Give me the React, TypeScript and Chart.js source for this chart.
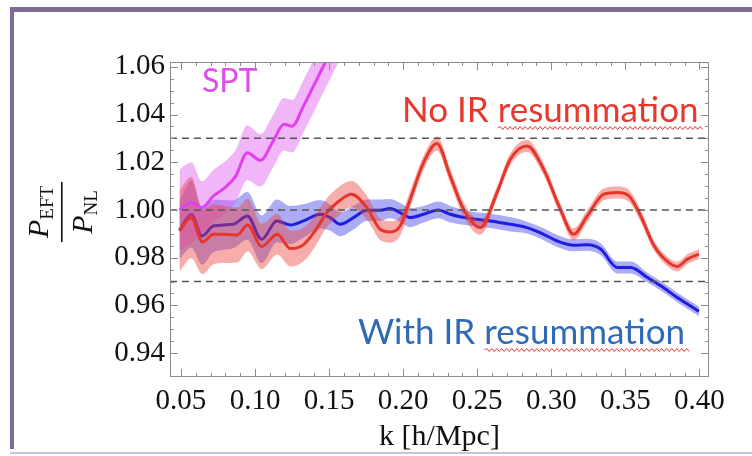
import React, { useEffect, useRef } from "react";
import { Chart, registerables } from "chart.js";

Chart.register(...registerables);

// ---- axes ----
const xRange = [0.0426, 0.4065];
const yRange = [0.93, 1.062];
const xTicks = [0.05, 0.1, 0.15, 0.2, 0.25, 0.3, 0.35, 0.4];
const yTicks = [0.94, 0.96, 0.98, 1.0, 1.02, 1.04, 1.06];
const refLines = [1.03, 1.0, 0.97];

// ---- No IR resummation (red) ----
const kRed = [0.049, 0.057, 0.0645, 0.072, 0.079, 0.088, 0.095, 0.1045, 0.115, 0.124, 0.133, 0.1405, 0.1485, 0.1555, 0.165, 0.1755, 0.1845, 0.1912, 0.198, 0.2048, 0.2138, 0.2228, 0.2318, 0.2408, 0.2521, 0.2634, 0.2723, 0.2836, 0.2949, 0.3061, 0.3151, 0.3243, 0.3355, 0.3446, 0.3524, 0.3604, 0.3694, 0.3807, 0.3851, 0.3919, 0.3997];
const redMid = [0.9912, 0.9968, 0.9866, 0.9898, 0.9898, 0.9895, 0.9937, 0.9847, 0.9898, 0.9838, 0.9856, 0.9912, 0.9989, 1.0031, 1.0066, 1.001, 0.9919, 0.9908, 0.9933, 1.0045, 1.0198, 1.0278, 1.0142, 1.0003, 0.9926, 1.0073, 1.0212, 1.0268, 1.017, 1.0003, 0.9898, 0.9975, 1.0066, 1.0073, 1.0059, 0.9975, 0.985, 0.9773, 0.9763, 0.9794, 0.9815];
const redErr = [0.017, 0.017, 0.0135, 0.0125, 0.012, 0.0115, 0.011, 0.0095, 0.0085, 0.0075, 0.007, 0.0065, 0.006, 0.006, 0.0055, 0.005, 0.0045, 0.0045, 0.004, 0.0035, 0.003, 0.003, 0.003, 0.003, 0.003, 0.0025, 0.0025, 0.0025, 0.0025, 0.0025, 0.0025, 0.0025, 0.0025, 0.0025, 0.0025, 0.0025, 0.002, 0.002, 0.002, 0.002, 0.002];

// ---- With IR resummation (blue) ----
const kBlue = [0.049, 0.057, 0.0644, 0.0718, 0.0853, 0.0948, 0.1045, 0.1147, 0.1237, 0.1327, 0.144, 0.1507, 0.1575, 0.1665, 0.1755, 0.1845, 0.1912, 0.198, 0.2048, 0.2138, 0.2239, 0.2318, 0.2453, 0.2589, 0.2723, 0.2836, 0.2949, 0.304, 0.3151, 0.3243, 0.3333, 0.3446, 0.3536, 0.3649, 0.3739, 0.3851, 0.3997];
const blueMid = [0.9915, 0.9982, 0.9891, 0.9933, 0.994, 0.9975, 0.9877, 0.9954, 0.9937, 0.9954, 0.9982, 0.9968, 0.994, 0.9968, 0.9999, 0.9999, 1.0006, 0.9989, 0.9968, 0.9982, 1.0, 0.9982, 0.9964, 0.9954, 0.994, 0.9926, 0.9898, 0.987, 0.9852, 0.9854, 0.9836, 0.9759, 0.9759, 0.9717, 0.9682, 0.9633, 0.9575];
const blueErr = [0.012, 0.014, 0.012, 0.011, 0.01, 0.01, 0.01, 0.009, 0.008, 0.007, 0.006, 0.0055, 0.005, 0.005, 0.0045, 0.0045, 0.004, 0.004, 0.004, 0.0035, 0.0035, 0.0035, 0.003, 0.003, 0.003, 0.0025, 0.0025, 0.0025, 0.0025, 0.0025, 0.0025, 0.0025, 0.0025, 0.002, 0.002, 0.002, 0.002];

// ---- SPT (magenta) ----
const kSpt = [0.049, 0.057, 0.064, 0.072, 0.079, 0.087, 0.0948, 0.1036, 0.1124, 0.1195, 0.125, 0.1327, 0.1417, 0.1507, 0.158];
const sptMid = [1.0, 1.003, 1.001, 1.0059, 1.009, 1.0142, 1.024, 1.0208, 1.029, 1.0359, 1.0351, 1.0435, 1.0547, 1.0659, 1.075];
const sptErr = [0.017, 0.017, 0.011, 0.011, 0.011, 0.011, 0.0115, 0.011, 0.011, 0.011, 0.011, 0.011, 0.011, 0.011, 0.011];

const labelSpt = "SPT";
const labelNoIR = ["No IR ", "resummation"];
const labelWithIR = ["With IR ", "resummation"];

const SERIF = "'Liberation Serif', 'Times New Roman', serif";
const SANS = "Lato, 'Open Sans', sans-serif";

function pts(ks: number[], vs: number[], off?: number[], sign = 0) {
  return ks.map((k, i) => ({ x: k, y: vs[i] + (off ? sign * off[i] : 0) }));
}

function wavy(ctx: CanvasRenderingContext2D, x0: number, x1: number, y: number) {
  ctx.beginPath();
  const step = 2.5;
  let up = true;
  ctx.moveTo(x0, y);
  for (let x = x0 + step; x <= x1; x += step) {
    ctx.lineTo(x, y + (up ? -1.5 : 1.5));
    up = !up;
  }
  ctx.stroke();
}

const decorPlugin = {
  id: "decor",
  beforeDraw(chart: any) {
    const ctx = chart.ctx as CanvasRenderingContext2D;
    ctx.save();
    ctx.fillStyle = "#7d6b98";
    ctx.fillRect(10, 7, 742, 5);
    ctx.fillRect(10, 7, 4, 442);
    ctx.fillStyle = "#cdc0da";
    ctx.fillRect(10, 452, 742, 2);
    ctx.restore();
  },
  afterDraw(chart: any) {
    const ctx = chart.ctx as CanvasRenderingContext2D;
    const a = chart.chartArea;
    const xs = chart.scales.x;
    const ys = chart.scales.y;
    ctx.save();
    // frame
    ctx.strokeStyle = "#8c8c8c";
    ctx.lineWidth = 1;
    ctx.strokeRect(Math.round(a.left) + 0.5, Math.round(a.top) + 0.5, Math.round(a.right - a.left) - 1, Math.round(a.bottom - a.top) - 1);
    // x ticks (major every 0.05, minor every 0.01)
    ctx.beginPath();
    for (let i = 5; i <= 40; i++) {
      const v = i / 100;
      const px = Math.round(xs.getPixelForValue(v)) + 0.5;
      const len = i % 5 === 0 ? 8 : 4;
      ctx.moveTo(px, a.bottom);
      ctx.lineTo(px, a.bottom - len);
      ctx.moveTo(px, a.top);
      ctx.lineTo(px, a.top + len);
    }
    // y ticks (major every 0.02, minor every 0.005)
    for (let i = 188; i <= 212; i++) {
      const v = i / 200;
      const py = Math.round(ys.getPixelForValue(v)) + 0.5;
      const len = i % 4 === 0 ? 8 : 4;
      ctx.moveTo(a.left, py);
      ctx.lineTo(a.left + len, py);
      ctx.moveTo(a.right, py);
      ctx.lineTo(a.right - len, py);
    }
    ctx.stroke();

    // annotations
    ctx.textBaseline = "alphabetic";
    ctx.textAlign = "left";
    ctx.font = `32px ${SANS}`;
    ctx.fillStyle = "#dd4fe6";
    ctx.fillText(labelSpt, 202, 92);

    ctx.font = `35px ${SANS}`;
    ctx.fillStyle = "#e8382e";
    const nx = 402, ny = 122;
    ctx.fillText(labelNoIR[0] + labelNoIR[1], nx, ny);
    const nw0 = ctx.measureText(labelNoIR[0]).width;
    const nw1 = ctx.measureText(labelNoIR[1]).width;

    ctx.fillStyle = "#2e6ab8";
    const wx = 358, wy = 344;
    ctx.fillText(labelWithIR[0] + labelWithIR[1], wx, wy);
    const ww0 = ctx.measureText(labelWithIR[0]).width;
    const ww1 = ctx.measureText(labelWithIR[1]).width;

    ctx.strokeStyle = "#e23a30";
    ctx.lineWidth = 1;
    wavy(ctx, nx + nw0, nx + nw0 + nw1 + 6, ny + 6);
    wavy(ctx, wx + ww0, wx + ww0 + ww1 + 6, wy + 6);

    // y-axis label: P_EFT / P_NL (rotated)
    ctx.translate(62, 212);
    ctx.rotate(-Math.PI / 2);
    ctx.fillStyle = "#111";
    const drawPart = (main: string, sub: string, base: number) => {
      ctx.font = `italic 30px ${SERIF}`;
      const mw = ctx.measureText(main).width;
      ctx.font = `19px ${SERIF}`;
      const sw = ctx.measureText(sub).width;
      const total = mw + sw;
      const x0 = -total / 2;
      ctx.font = `italic 30px ${SERIF}`;
      ctx.fillText(main, x0, base);
      ctx.font = `19px ${SERIF}`;
      ctx.fillText(sub, x0 + mw, base + 5);
      return total;
    };
    drawPart("P", "EFT", -14);
    drawPart("P", "NL", 30);
    ctx.fillRect(-30, -1, 60, 1.6);
    ctx.restore();
  },
};

export default function App() {
  const ref = useRef<HTMLCanvasElement | null>(null);

  useEffect(() => {
    if (!ref.current) return;
    const bandStyle = (color: string) => ({
      borderWidth: 0,
      pointRadius: 0,
      backgroundColor: color,
      borderColor: "transparent",
    });
    const lineStyle = (color: string) => ({
      borderWidth: 3,
      pointRadius: 0,
      borderColor: color,
      backgroundColor: color,
      fill: false,
    });
    const xmin = xRange[0];
    const xmax = xRange[1];
    // lower "order" is drawn on top
    const datasets: any[] = [
      // 0..2 reference dashed lines (top)
      ...refLines.map((v, i) => ({
        data: [{ x: xmin, y: v }, { x: xmax, y: v }],
        borderColor: "#555",
        borderWidth: 1.5,
        borderDash: [7, 5],
        pointRadius: 0,
        fill: false,
        order: 0 + i,
      })),
      // 3..5 lines
      { ...lineStyle("#e040ee"), data: pts(kSpt, sptMid), order: 5 },
      { ...lineStyle("#e8352c"), data: pts(kRed, redMid), order: 6 },
      { ...lineStyle("#1e1ee0"), data: pts(kBlue, blueMid), order: 14 },
      // 6,7 blue band (bottom)
      { ...bandStyle("rgba(70,70,235,0.45)"), data: pts(kBlue, blueMid, blueErr, 1), fill: false, order: 20 },
      { ...bandStyle("rgba(70,70,235,0.45)"), data: pts(kBlue, blueMid, blueErr, -1), fill: "-1", order: 21 },
      // 8,9 red band (above blue line)
      { ...bandStyle("rgba(235,60,50,0.42)"), data: pts(kRed, redMid, redErr, 1), fill: false, order: 8 },
      { ...bandStyle("rgba(235,60,50,0.42)"), data: pts(kRed, redMid, redErr, -1), fill: "-1", order: 9 },
      // 10,11 SPT band
      { ...bandStyle("rgba(222,80,235,0.42)"), data: pts(kSpt, sptMid, sptErr, 1), fill: false, order: 10 },
      { ...bandStyle("rgba(222,80,235,0.42)"), data: pts(kSpt, sptMid, sptErr, -1), fill: "-1", order: 11 },
    ];

    const tickFont = { family: SERIF, size: 29 };
    const chart = new Chart(ref.current, {
      type: "line",
      data: { datasets },
      plugins: [decorPlugin],
      options: {
        animation: false,
        responsive: false,
        devicePixelRatio: 1,
        layout: { padding: { left: 0, top: 62, right: 43, bottom: 0 } },
        elements: { line: { cubicInterpolationMode: "monotone" } },
        plugins: {
          legend: { display: false },
          tooltip: { enabled: false },
          filler: { propagate: false },
        },
        scales: {
          x: {
            type: "linear",
            min: xRange[0],
            max: xRange[1],
            afterBuildTicks: (s: any) => {
              s.ticks = xTicks.map((v) => ({ value: v }));
            },
            afterFit: (s: any) => {
              s.height = 79;
            },
            grid: { display: false, drawTicks: false },
            border: { display: false },
            ticks: {
              padding: 7,
              color: "#111",
              font: tickFont,
              autoSkip: false,
              maxRotation: 0,
              callback: (v: any) => Number(v).toFixed(2),
            },
            title: {
              display: true,
              text: "k [h/Mpc]",
              color: "#111",
              font: { family: SERIF, size: 30 },
              padding: { top: 0, bottom: 1 },
            },
          },
          y: {
            type: "linear",
            min: yRange[0],
            max: yRange[1],
            afterBuildTicks: (s: any) => {
              s.ticks = yTicks.map((v) => ({ value: v }));
            },
            afterFit: (s: any) => {
              s.width = 170;
            },
            grid: { display: false, drawTicks: false },
            border: { display: false },
            ticks: {
              padding: 5,
              color: "#111",
              font: tickFont,
              autoSkip: false,
              callback: (v: any) => Number(v).toFixed(2),
            },
          },
        },
      } as any,
    });
    return () => chart.destroy();
  }, []);

  return (
    <div style={{ position: "absolute", left: 0, top: 0, width: 752, height: 456, background: "#fff" }}>
      <canvas ref={ref} width={752} height={456} style={{ display: "block" }} />
    </div>
  );
}
